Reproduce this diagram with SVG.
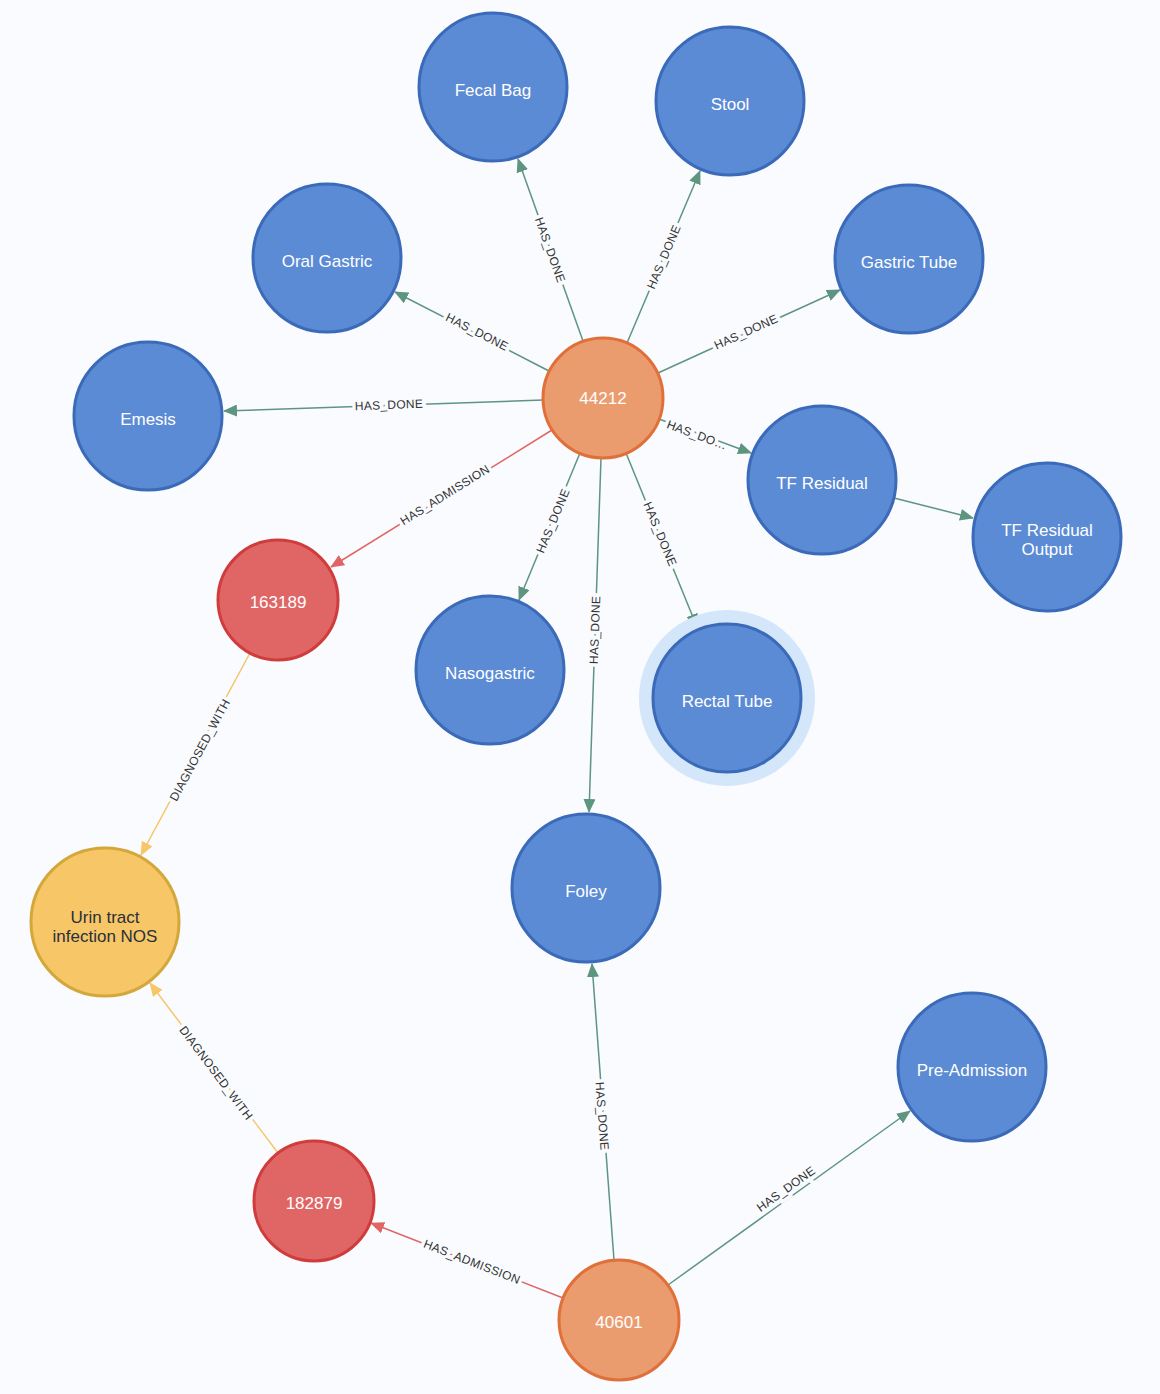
<svg xmlns="http://www.w3.org/2000/svg" width="1160" height="1394" viewBox="0 0 1160 1394">
<style>
text{font-family:"Liberation Sans",Arial,sans-serif}
.n{stroke-width:3}
.b{fill:#5B8BD5;stroke:#3B6AB8}
.o{fill:#EB9C6F;stroke:#E0703A}
.r{fill:#E06666;stroke:#D03C3C}
.y{fill:#F6C667;stroke:#D4A73A}
.nt{font-size:17px;fill:#fff;text-anchor:middle}
.dt{font-size:17px;fill:#2a2f3a;text-anchor:middle}
.g{stroke:#5E9580;stroke-width:1.5;fill:none;marker-end:url(#ag)}
.rd{stroke:#E06666;stroke-width:1.5;fill:none;marker-end:url(#ar)}
.yl{stroke:#F6C667;stroke-width:1.5;fill:none;marker-end:url(#ay)}
.l{font-size:12px;fill:#333;text-anchor:middle;dominant-baseline:central;stroke:#F9FBFE;stroke-width:7;paint-order:stroke;letter-spacing:0.3px}
</style>
<defs>
<marker id="ag" markerWidth="14" markerHeight="12" refX="13" refY="6" orient="auto" markerUnits="userSpaceOnUse"><path d="M0,0L14,6L0,12z" fill="#5E9580"/></marker>
<marker id="ar" markerWidth="14" markerHeight="12" refX="13" refY="6" orient="auto" markerUnits="userSpaceOnUse"><path d="M0,0L14,6L0,12z" fill="#E06666"/></marker>
<marker id="ay" markerWidth="14" markerHeight="12" refX="13" refY="6" orient="auto" markerUnits="userSpaceOnUse"><path d="M0,0L14,6L0,12z" fill="#F6C667"/></marker>
</defs>
<rect width="1160" height="1394" fill="#F9FBFE"/>
<g id="edges">
<line class="g" x1="583" y1="341" x2="518" y2="159"/><text class="l" transform="translate(550,250) rotate(70.5)">HAS_DONE</text>
<line class="g" x1="627" y1="343" x2="700" y2="171"/><text class="l" transform="translate(664,257) rotate(-66.9)">HAS_DONE</text>
<line class="g" x1="658" y1="373" x2="840" y2="290"/><text class="l" transform="translate(746,332) rotate(-24.4)">HAS_DONE</text>
<line class="g" x1="549" y1="371" x2="395" y2="292"/><text class="l" transform="translate(477,332) rotate(26.9)">HAS_DONE</text>
<line class="g" x1="543" y1="400" x2="224" y2="411"/><text class="l" transform="translate(389,405) rotate(-2.3)">HAS_DONE</text>
<line class="g" x1="659" y1="419" x2="751" y2="453"/><text class="l" transform="translate(697,435) rotate(20.5)">HAS_DO…</text>
<line class="g" x1="894" y1="498" x2="973" y2="518"/>
<line class="rd" x1="552" y1="430" x2="331" y2="567"/><text class="l" transform="translate(445,495) rotate(-31.9)">HAS_ADMISSION</text>
<line class="g" x1="580" y1="453" x2="519" y2="600"/><text class="l" transform="translate(553,521) rotate(-67.4)">HAS_DONE</text>
<line class="g" x1="626" y1="453" x2="697" y2="627"/><text class="l" transform="translate(660,534) rotate(67.5)">HAS_DONE</text>
<line class="g" x1="601" y1="458" x2="589" y2="812"/><text class="l" transform="translate(595,630) rotate(-88)">HAS_DONE</text>
<line class="yl" x1="250" y1="653" x2="141" y2="855"/><text class="l" transform="translate(200,750) rotate(-61.7)">DIAGNOSED_WITH</text>
<line class="yl" x1="278" y1="1153" x2="150" y2="983"/><text class="l" transform="translate(216,1073) rotate(53.2)">DIAGNOSED_WITH</text>
<line class="rd" x1="563" y1="1298" x2="371" y2="1223"/><text class="l" transform="translate(472,1262) rotate(21.3)">HAS_ADMISSION</text>
<line class="g" x1="614" y1="1260" x2="592" y2="964"/><text class="l" transform="translate(602,1116) rotate(85.6)">HAS_DONE</text>
<line class="g" x1="668" y1="1285" x2="910" y2="1111"/><text class="l" transform="translate(786,1189) rotate(-35.6)">HAS_DONE</text>
</g>
<g id="n44212"><circle class="n o" cx="603" cy="398" r="60"/><text class="nt" x="603" y="404">44212</text></g>
<g id="fecal"><circle class="n b" cx="493" cy="87" r="74"/><text class="nt" x="493" y="96">Fecal Bag</text></g>
<g id="stool"><circle class="n b" cx="730" cy="101" r="74"/><text class="nt" x="730" y="110">Stool</text></g>
<g id="gastric"><circle class="n b" cx="909" cy="259" r="74"/><text class="nt" x="909" y="268">Gastric Tube</text></g>
<g id="oral"><circle class="n b" cx="327" cy="258" r="74"/><text class="nt" x="327" y="267">Oral Gastric</text></g>
<g id="emesis"><circle class="n b" cx="148" cy="416" r="74"/><text class="nt" x="148" y="425">Emesis</text></g>
<g id="tfres"><circle class="n b" cx="822" cy="480" r="74"/><text class="nt" x="822" y="489">TF Residual</text></g>
<g id="tfout"><circle class="n b" cx="1047" cy="537" r="74"/><text class="nt" x="1047" y="536">TF Residual</text><text class="nt" x="1047" y="555">Output</text></g>
<g id="n163189"><circle class="n r" cx="278" cy="600" r="60"/><text class="nt" x="278" y="608">163189</text></g>
<g id="naso"><circle class="n b" cx="490" cy="670" r="74"/><text class="nt" x="490" y="679">Nasogastric</text></g>
<g id="rectal"><circle cx="727" cy="698" r="88" fill="#D4E6FA"/><circle class="n b" cx="727" cy="698" r="74"/><text class="nt" x="727" y="707">Rectal Tube</text></g>
<g id="foley"><circle class="n b" cx="586" cy="888" r="74"/><text class="nt" x="586" y="897">Foley</text></g>
<g id="urin"><circle class="n y" cx="105" cy="922" r="74"/><text class="dt" x="105" y="923">Urin tract</text><text class="dt" x="105" y="942">infection NOS</text></g>
<g id="n182879"><circle class="n r" cx="314" cy="1201" r="60"/><text class="nt" x="314" y="1209">182879</text></g>
<g id="n40601"><circle class="n o" cx="619" cy="1320" r="60"/><text class="nt" x="619" y="1328">40601</text></g>
<g id="preadm"><circle class="n b" cx="972" cy="1067" r="74"/><text class="nt" x="972" y="1076">Pre-Admission</text></g>
</svg>
